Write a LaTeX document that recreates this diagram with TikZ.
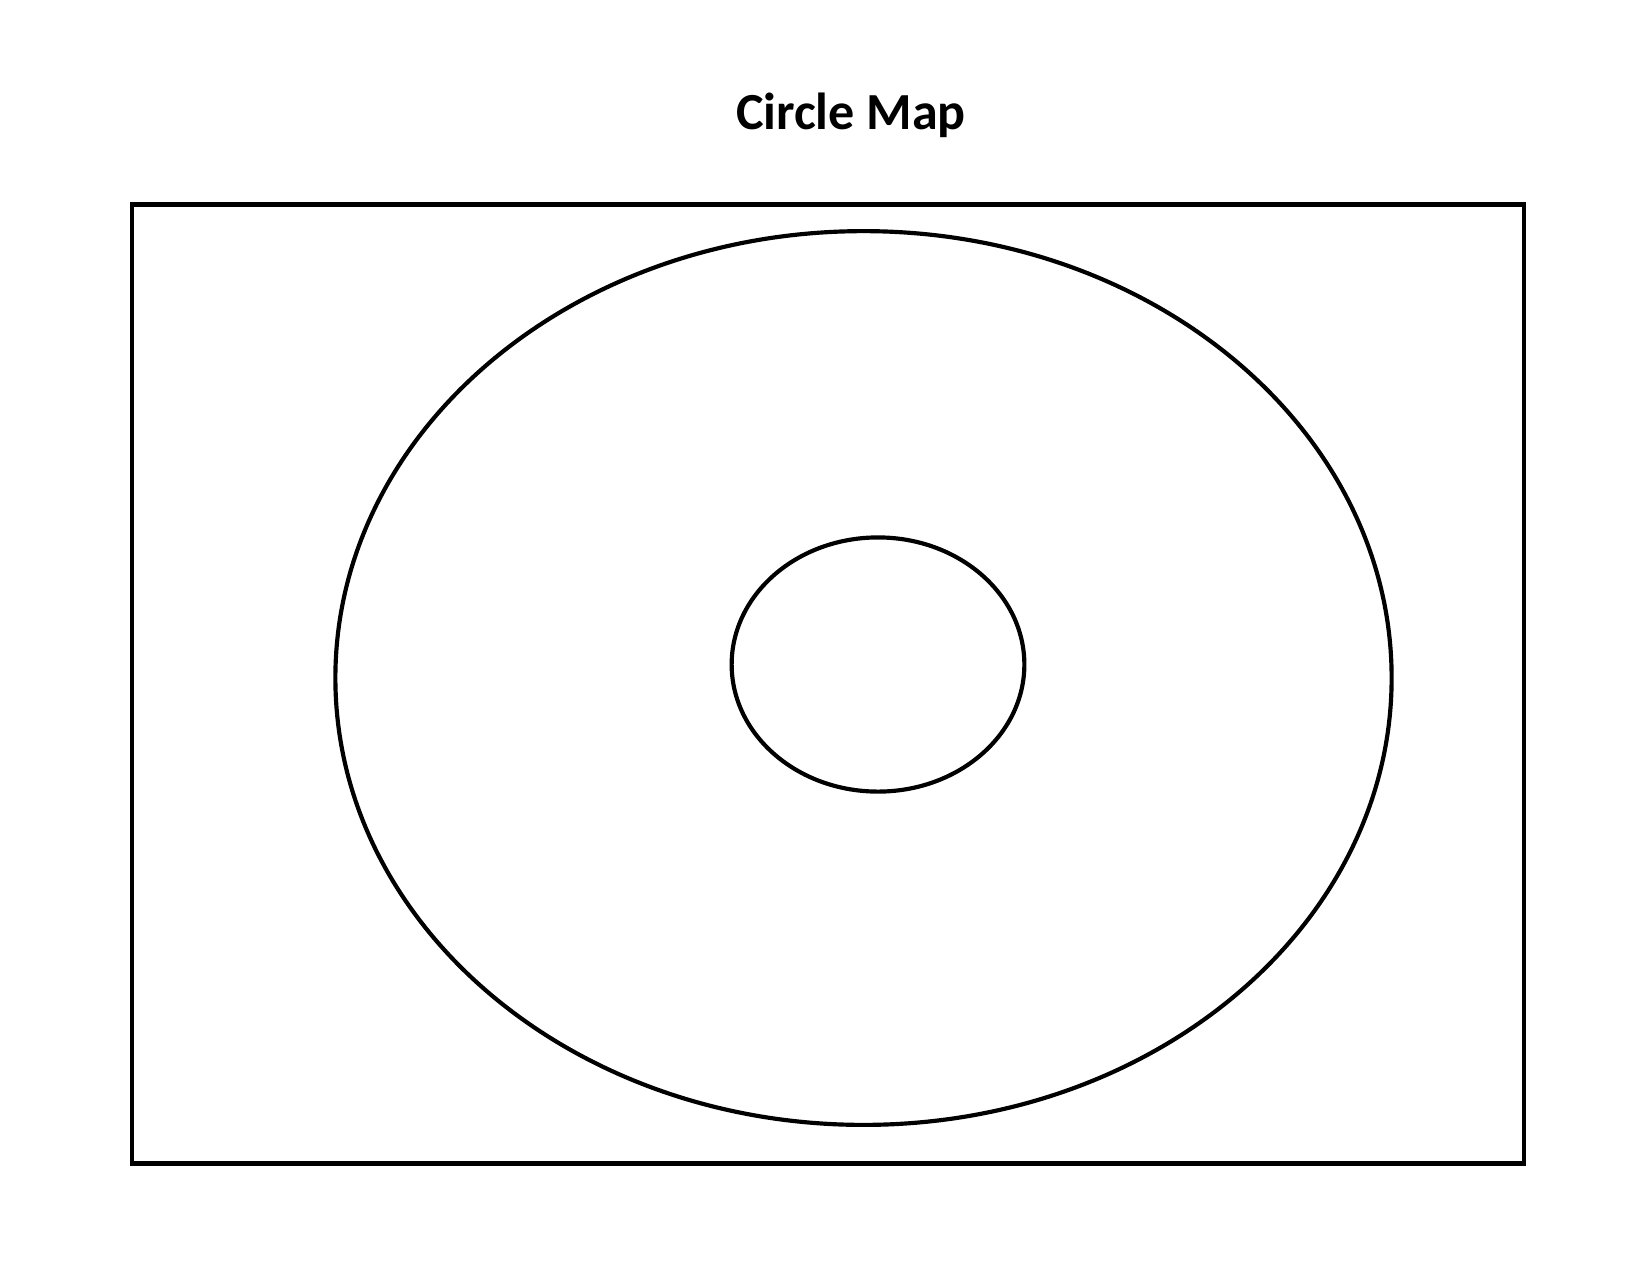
\documentclass[tikz,border=0pt]{standalone}
\usepackage{fontspec}
\setmainfont{Carlito}
\usetikzlibrary{shapes,positioning}

\begin{document}
\begin{tikzpicture}
    [x=0.48pt,y=-0.48pt,every node/.style={draw,line width=2pt,inner sep=0pt}]
    \useasboundingbox (0,0) rectangle (1650,1275);
    \node[draw=none,anchor=base,font=\bfseries\fontsize{25}{30}\selectfont] (title) at (851,129) {Circle Map};
    \node[rectangle,line width=2.3pt,minimum width=668.2pt,minimum height=460.5pt] (frame) at (828,684) {};
    \node[ellipse,minimum width=507pt,minimum height=429pt] (outer) at (863.5,678) {};
    \node[ellipse,minimum width=140.5pt,minimum height=122pt] (inner) at (878,664.5) {};
\end{tikzpicture}
\end{document}
